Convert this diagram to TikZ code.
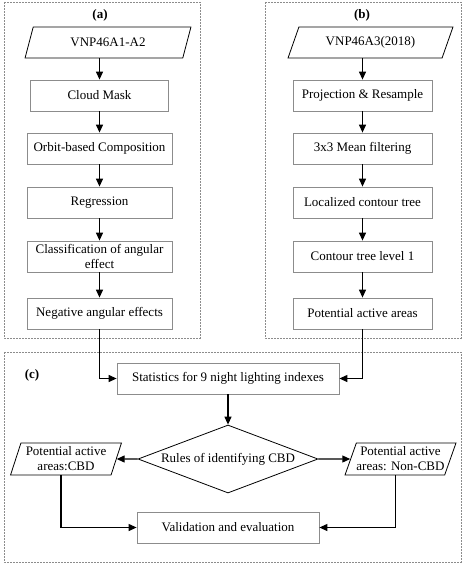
\documentclass[tikz,border=0pt]{standalone}
\usepackage{fontspec}
\setmainfont{Liberation Serif}
\usetikzlibrary{shapes.geometric,arrows.meta}
\begin{document}
\begin{tikzpicture}[x=1pt,y=-1pt,
  every node/.style={font=\fontsize{13}{15}\selectfont},
  panel/.style={draw=black!45,dashed,dash pattern=on 2pt off 1pt,line width=0.6pt},
  procbox/.style={draw=black!45,line width=0.8pt,rectangle,minimum height=31pt,inner sep=0pt,align=center},
  databox/.style={draw=black,line width=0.8pt,trapezium,trapezium stretches=true,minimum height=31pt,inner sep=0pt,align=center},
  decbox/.style={draw=black,line width=0.8pt,diamond,shape aspect=2.65,inner sep=0pt,minimum width=180pt,minimum height=68pt},
  flow/.style={draw=black,line width=1.2pt,-{Triangle[length=8pt,width=7pt]}},
  plabel/.style={font=\fontsize{13}{15}\selectfont\bfseries}]
\useasboundingbox (0,0) rectangle (466,570);
% panels
\draw[panel] (4,2) rectangle (200,338);
\draw[panel] (265,2) rectangle (461,338);
\draw[panel] (4,352) rectangle (461,562);
\node[plabel] (la) at (100,15) {(a)};
\node[plabel] (lb) at (362,15) {(b)};
\node[plabel] (lc) at (32,375) {(c)};
% panel a
\node[databox,minimum width=166pt,trapezium left angle=65,trapezium right angle=115] (pa) at (108,42.5) {VNP46A1-A2};
\node[procbox,minimum width=138pt] (cm) at (99.5,95.5) {Cloud Mask};
\node[procbox,minimum width=145pt] (ob) at (99.5,148.5) {Orbit-based Composition};
\node[procbox,minimum width=145pt] (rg) at (99.5,202.5) {Regression};
\node[procbox,minimum width=145pt] (cl) at (99.5,256.5) {Classification of angular\\effect};
\node[procbox,minimum width=145pt] (na) at (99.5,313.5) {Negative angular effects};
% panel b
\node[databox,minimum width=165pt,trapezium left angle=60,trapezium right angle=120] (pb) at (370.5,42.5) {VNP46A3(2018)};
\node[procbox,minimum width=139pt] (pr) at (362.5,95.5) {Projection \& Resample};
\node[procbox,minimum width=139pt] (mf) at (362.5,148.5) {3x3 Mean filtering};
\node[procbox,minimum width=139pt] (lt) at (362.5,202.5) {Localized contour tree};
\node[procbox,minimum width=139pt] (ct) at (362.5,256.5) {Contour tree level 1};
\node[procbox,minimum width=139pt] (pt) at (362.5,313.5) {Potential active areas};
% panel c
\node[procbox,minimum width=222pt] (st) at (228,378.5) {Statistics for 9 night lighting indexes};
\node[decbox] (di) at (228,459) {Rules of identifying CBD};
\node[databox,minimum width=112pt,minimum height=32pt,trapezium left angle=69,trapezium right angle=111] (lp) at (66,459) {Potential active\\areas:CBD};
\node[databox,minimum width=111pt,minimum height=32pt,trapezium left angle=65,trapezium right angle=115] (rp) at (400.5,459) {Potential active\\areas: Non-CBD};
\node[procbox,minimum width=182pt] (va) at (228,527.5) {Validation and evaluation};
% connectors a
\draw[flow] (pa.south -| cm.north) -- (cm.north);
\draw[flow] (cm) -- (ob);
\draw[flow] (ob) -- (rg);
\draw[flow] (rg) -- (cl);
\draw[flow] (cl) -- (na);
% connectors b
\draw[flow] (pb.south -| pr.north) -- (pr.north);
\draw[flow] (pr) -- (mf);
\draw[flow] (mf) -- (lt);
\draw[flow] (lt) -- (ct);
\draw[flow] (ct) -- (pt);
% connectors c
\draw[flow] (na.south) |- (st.west);
\draw[flow] (pt.south) |- (st.east);
\draw[flow] (st) -- (di);
\draw[flow] (di.west) -- (lp.east);
\draw[flow] (di.east) -- (rp.west);
\draw[flow] ([xshift=-5pt]lp.south) |- (va.west);
\draw[flow] ([xshift=-5pt]rp.south) |- (va.east);
\end{tikzpicture}
\end{document}
